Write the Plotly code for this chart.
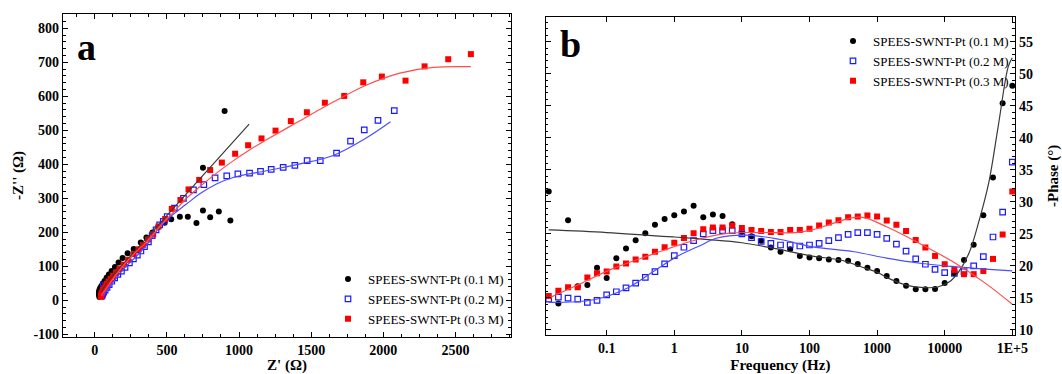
import plotly.graph_objects as go

FONT = "Liberation Serif"

# ---------------- Panel a : Nyquist ----------------
a_names = ["SPEES-SWNT-Pt (0.1 M)", "SPEES-SWNT-Pt (0.2 M)", "SPEES-SWNT-Pt (0.3 M)"]

a_x_01 = [32, 30, 29, 30, 33, 38, 46, 56, 68, 82, 98, 117, 140, 165, 193, 228, 270, 319, 358, 400,
          439, 485, 530, 590, 645, 705, 750, 800, 860, 940, 750, 900]
a_y_01 = [10, 15, 20, 26, 31, 36, 42, 49, 57, 66, 76, 86, 98, 111, 124, 138, 151, 170, 185, 199,
          215, 228, 238, 246, 246, 227, 264, 244, 261, 235, 390, 557]

a_x_02 = [60, 50, 55, 62, 72, 85, 100, 118, 138, 160, 185, 210, 240, 268, 295, 320, 345, 372, 398, 425,
          450, 475, 502, 552, 615, 684, 756, 834, 915, 992, 1073, 1149, 1223, 1306, 1387, 1472, 1563,
          1676, 1773, 1868, 1963, 2076]
a_y_02 = [45, 12, 18, 24, 30, 38, 46, 56, 66, 76, 86, 97, 110, 122, 133, 145, 158, 172, 190, 207,
          222, 232, 246, 271, 300, 325, 340, 360, 366, 372, 374, 379, 385, 391, 397, 411, 411,
          433, 468, 501, 529, 558]

a_x_03 = [43, 44, 46, 49, 53, 58, 65, 73, 83, 95, 110, 127, 148, 172, 200, 231, 270, 303, 335, 370,
          405, 442, 488, 534, 594, 650, 724, 800, 881, 973, 1063, 1156, 1253, 1359, 1470, 1595,
          1729, 1861, 1990, 2154, 2286, 2450, 2607]
a_y_03 = [10, 13, 17, 21, 25, 30, 35, 41, 48, 55, 63, 72, 82, 93, 105, 119, 136, 150, 163, 179,
          194, 217, 239, 269, 295, 326, 354, 383, 405, 431, 456, 476, 499, 527, 553, 581,
          601, 641, 658, 646, 688, 709, 724]

# fitted curves (panel a)
a_fit_x_01 = [45, 100, 200, 300, 451, 700, 900, 1070]
a_fit_y_01 = [25, 60, 107, 155, 226, 344, 438, 518]
a_fit_x_02 = [55, 90, 140, 210, 290, 370, 440, 497, 636, 728, 844, 959, 1190, 1422, 1653, 1884, 2050]
a_fit_y_02 = [12, 32, 60, 97, 130, 168, 210, 236, 283, 313, 342, 361, 381, 401, 426, 478, 525]
a_fit_x_03 = [45, 80, 130, 200, 280, 360, 440, 500, 543, 636, 728, 844, 959, 1075, 1190, 1422,
              1653, 1884, 2115, 2346, 2607]
a_fit_y_03 = [14, 35, 65, 103, 140, 172, 212, 240, 258, 300, 334, 374, 410, 443, 472, 528,
              583, 633, 668, 685, 687]

a_xticks = [0, 500, 1000, 1500, 2000, 2500]
a_yticks = [-100, 0, 100, 200, 300, 400, 500, 600, 700, 800]

# ---------------- Panel b : Bode phase ----------------
b_freq = [0.01389, 0.01931, 0.02683, 0.03728, 0.05179, 0.07197,
          0.1, 0.1389, 0.1931, 0.2683, 0.3728, 0.5179, 0.7197,
          1, 1.389, 1.931, 2.683, 3.728, 5.179, 7.197,
          10, 13.89, 19.31, 26.83, 37.28, 51.79, 71.97,
          100, 138.9, 193.1, 268.3, 372.8, 517.9, 719.7,
          1000, 1389, 1931, 2683, 3728, 5179, 7197,
          10000, 13890, 19310, 26830, 37280, 51790, 71970,
          100000]
b_phase_01 = [31.6, 14.1, 27.1, 16.8, 17.0, 19.7,
              18.1, 21.2, 22.7, 24.0, 25.1, 26.4, 27.3,
              27.9, 28.5, 29.4, 27.6, 28.0, 27.8, 26.5,
              25.3, 24.6, 23.9, 22.85, 22.2, 22.6, 21.55,
              21.3, 21.2, 21.0, 20.9, 20.8, 20.3, 19.7,
              19.2, 18.4, 17.65, 16.9, 16.35, 16.35, 16.4,
              17.3, 18.85, 20.9, 23.3, 27.9, 33.8, 45.4,
              48.1]
b_phase_02 = [14.8, 15.1, 14.95, 14.8, 14.3, 14.6,
              15.45, 15.95, 16.55, 17.3, 18.2, 19.1, 20.3,
              21.6, 22.9, 23.95, 25.0, 25.5, 25.5, 25.5,
              25.0, 24.4, 23.8, 23.5, 23.25, 23.25, 23.1,
              23.25, 23.5, 23.95, 24.4, 24.9, 25.2, 25.2,
              24.9, 24.3, 23.4, 22.3, 21.1, 20.25, 19.45,
              18.95, 18.8, 19.1, 20.0, 21.45, 24.5, 28.4,
              36.2]
b_phase_03 = [15.3, 16.1, 16.66, 16.66, 18.17, 18.85,
              19.1, 19.9, 20.35, 20.98, 21.4, 22.2, 22.9,
              23.6, 24.36, 25.1, 25.7, 26.0, 26.0, 26.3,
              25.9, 25.6, 25.45, 25.3, 25.3, 25.6, 25.6,
              25.8, 26.3, 26.75, 27.1, 27.6, 27.7, 27.85,
              27.7, 27.06, 26.4, 25.45, 24.05, 22.85, 21.55,
              20.25, 19.36, 18.7, 18.7, 19.2, 21.08, 24.9,
              31.6]

# fitted curves (panel b)
b_fit_f_01 = [0.0139, 0.1, 1, 3.16, 10, 31.6, 100, 316, 562, 1000, 1380, 2690, 5010, 7940,
              11750, 16200, 22900, 31600, 44700, 61700, 87100, 100000]
b_fit_p_01 = [25.6, 25.2, 24.5, 24.1, 23.6, 22.7, 21.6, 20.8, 19.9, 19.0, 18.2, 17.0, 16.6, 16.7,
              17.5, 19.1, 22.0, 26.7, 32.9, 41.7, 51.1, 52.5]
b_fit_f_02 = [0.0139, 0.0646, 0.2, 0.49, 1.07, 2.57, 4.17, 11.5, 35.5, 107, 457, 1380, 4270,
              12900, 39800, 100000]
b_fit_p_02 = [14.3, 14.7, 16.5, 19.1, 21.4, 23.3, 24.3, 24.8, 24.15, 23.0, 22.2, 21.2, 20.4,
              19.9, 19.5, 19.2]
b_fit_f_03 = [0.0139, 0.0372, 0.1135, 0.347, 1.07, 2.57, 6.61, 20, 61.7, 107, 191, 355, 525,
              708, 1380, 4270, 12900, 39800, 100000]
b_fit_p_03 = [14.95, 17.0, 19.4, 21.3, 23.1, 24.3, 25.1, 25.2, 25.2, 25.6, 26.4, 27.3, 27.6,
              27.4, 26.1, 23.5, 20.7, 17.3, 14.0]

b_xticks = [0.1, 1, 10, 100, 1000, 10000, 100000]
b_xtext = ["0.1", "1", "10", "100", "1000", "10000", "1E+5"]
b_yticks = [10, 15, 20, 25, 30, 35, 40, 45, 50, 55]

# ---------------- styles ----------------
mk = [dict(symbol="circle", color="black", size=6),
      dict(symbol="square-open", color="#1a1aff", size=5.5, line=dict(width=1.2, color="#1a1aff")),
      dict(symbol="square", color="#ff0000", size=6)]
fit_col = ["#3a3a3a", "#4d4dff", "#ff4d4d"]

fig = go.Figure()

# Panel a markers
for xs, ys, m, nm in zip([a_x_01, a_x_02, a_x_03], [a_y_01, a_y_02, a_y_03], mk, a_names):
    fig.add_trace(go.Scatter(x=xs, y=ys, mode="markers", marker=m, name=nm,
                             xaxis="x", yaxis="y", legend="legend"))
# Panel a fits
for xs, ys, c in zip([a_fit_x_01, a_fit_x_02, a_fit_x_03], [a_fit_y_01, a_fit_y_02, a_fit_y_03], fit_col):
    fig.add_trace(go.Scatter(x=xs, y=ys, mode="lines", line=dict(color=c, width=1.2, shape="spline"),
                             showlegend=False, xaxis="x", yaxis="y", hoverinfo="skip"))

# Panel b markers
for ys, m, nm in zip([b_phase_01, b_phase_02, b_phase_03], mk, a_names):
    fig.add_trace(go.Scatter(x=b_freq, y=ys, mode="markers", marker=m, name=nm,
                             xaxis="x2", yaxis="y2", legend="legend2"))
# Panel b fits
for xs, ys, c in zip([b_fit_f_01, b_fit_f_02, b_fit_f_03], [b_fit_p_01, b_fit_p_02, b_fit_p_03], fit_col):
    fig.add_trace(go.Scatter(x=xs, y=ys, mode="lines", line=dict(color=c, width=1.2, shape="spline"),
                             showlegend=False, xaxis="x2", yaxis="y2", hoverinfo="skip"))

W, H = 1062, 374
L, R, T, B = 63, 1015, 14, 337
PW, PH = R - L, B - T

def px(xp):
    return (xp - L) / PW

def py(yp):
    return (B - yp) / PH

tickfont = dict(family=FONT, size=14, color="black", weight="bold")
titlefont = dict(family=FONT, size=15, color="black", weight="bold")
axis_common = dict(showline=True, linecolor="black", linewidth=1.2, mirror="allticks",
                   ticks="inside", ticklen=5, tickwidth=1, tickcolor="black",
                   showgrid=False, zeroline=False, tickfont=tickfont, automargin=False)

fig.update_layout(
    width=W, height=H,
    margin=dict(l=L, r=W - R, t=T, b=H - B, autoexpand=False),
    paper_bgcolor="white", plot_bgcolor="white",
    showlegend=True,
    xaxis=dict(domain=[0, px(511)], range=[-220, 2885], anchor="y",
               tickvals=a_xticks, ticktext=[str(v) for v in a_xticks],
               minor=dict(ticks="inside", ticklen=2.5, dtick=125, tickcolor="black", showgrid=False),
               title=dict(text="Z' (Ω)", font=titlefont, standoff=4), **axis_common),
    yaxis=dict(domain=[0, 1], range=[-108, 842], anchor="x",
               tickvals=a_yticks, ticktext=[str(v) for v in a_yticks],
               minor=dict(ticks="inside", ticklen=2.5, dtick=20, tickcolor="black", showgrid=False),
               title=dict(text="-Z'' (Ω)", font=titlefont, standoff=6), **axis_common),
    xaxis2=dict(domain=[px(545.7), 1], type="log", range=[-1.902, 5.04], anchor="y2",
                tickvals=b_xticks, ticktext=b_xtext,
                title=dict(text="Frequency (Hz)", font=titlefont, standoff=4), **axis_common),
    yaxis2=dict(domain=[py(335), py(16.7)], range=[9.2, 58.9], anchor="x2", side="right",
                tickvals=b_yticks, ticktext=[str(v) for v in b_yticks],
                minor=dict(ticks="inside", ticklen=2.5, dtick=1, tickcolor="black", showgrid=False),
                title=dict(text="-Phase (°)", font=titlefont, standoff=19), **axis_common),
    legend=dict(x=px(328), y=py(264), xanchor="left", yanchor="top",
                font=dict(family=FONT, size=13, color="black"),
                bgcolor="rgba(0,0,0,0)", borderwidth=0, tracegroupgap=0, itemwidth=30),
    legend2=dict(x=px(833), y=py(26), xanchor="left", yanchor="top",
                 font=dict(family=FONT, size=13, color="black"),
                 bgcolor="rgba(0,0,0,0)", borderwidth=0, tracegroupgap=0, itemwidth=30),
    annotations=[
        dict(text="a", x=px(86), y=py(47), xref="paper", yref="paper", showarrow=False,
             xanchor="center", yanchor="middle",
             font=dict(family=FONT, size=38, color="black", weight="bold")),
        dict(text="b", x=px(570), y=py(44), xref="paper", yref="paper", showarrow=False,
             xanchor="center", yanchor="middle",
             font=dict(family=FONT, size=38, color="black", weight="bold")),
    ],
)

fig.write_html("out.html")
